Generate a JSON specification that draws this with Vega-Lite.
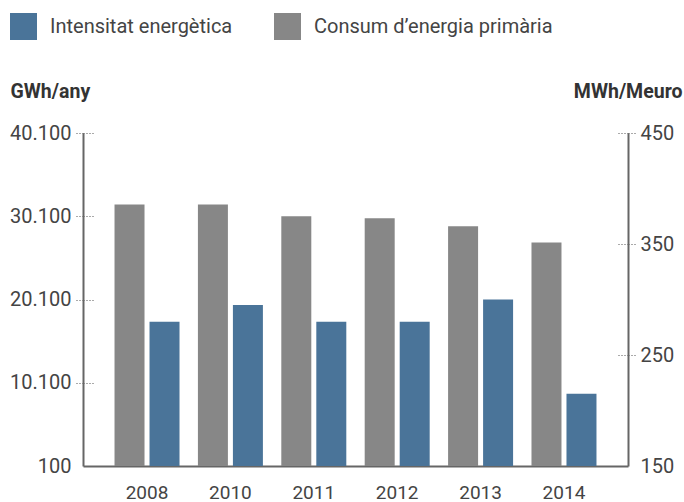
{
  "$schema": "https://vega.github.io/schema/vega-lite/v6.json",
  "width": 545,
  "height": 333,
  "autosize": {"type": "none"},
  "padding": {"left": 83, "top": 133, "right": 56, "bottom": 36},
  "background": "white",
  "config": {
    "view": {"stroke": null},
    "font": "Roboto",
    "axis": {"labelFont": "Roboto", "titleFont": "Roboto"},
    "legend": {"labelFont": "Roboto"}
  },
  "data": {
    "values": [
      {"any": "2008", "serie": "Consum d’energia primària", "valor": 31500},
      {"any": "2010", "serie": "Consum d’energia primària", "valor": 31500},
      {"any": "2011", "serie": "Consum d’energia primària", "valor": 30100},
      {"any": "2012", "serie": "Consum d’energia primària", "valor": 29850},
      {"any": "2013", "serie": "Consum d’energia primària", "valor": 28900},
      {"any": "2014", "serie": "Consum d’energia primària", "valor": 26950},
      {"any": "2008", "serie": "Intensitat energètica", "valor": 280},
      {"any": "2010", "serie": "Intensitat energètica", "valor": 295},
      {"any": "2011", "serie": "Intensitat energètica", "valor": 280},
      {"any": "2012", "serie": "Intensitat energètica", "valor": 280},
      {"any": "2013", "serie": "Intensitat energètica", "valor": 300},
      {"any": "2014", "serie": "Intensitat energètica", "valor": 215}
    ]
  },
  "encoding": {
    "x": {
      "field": "any", "type": "nominal", "sort": null,
      "scale": {"paddingInner": 0.2206, "paddingOuter": 0.378},
      "axis": {
        "title": null, "labelAngle": 0, "ticks": false,
        "domainColor": "#666", "domainWidth": 2,
        "labelFontSize": 19, "labelPadding": 17, "labelColor": "#444", "labelBaseline": "top"
      }
    },
    "xOffset": {
      "field": "serie", "type": "nominal",
      "scale": {"domain": ["Consum d’energia primària", "Intensitat energètica"], "paddingInner": 0.143, "paddingOuter": 0}
    },
    "color": {
      "field": "serie", "type": "nominal",
      "scale": {"domain": ["Intensitat energètica", "Consum d’energia primària"], "range": ["#4a7499", "#878787"]},
      "legend": {
        "orient": "none", "legendX": -73, "legendY": -120, "direction": "horizontal",
        "title": null, "symbolType": "square", "symbolSize": 729, "symbolStrokeWidth": 0,
        "symbolOpacity": 1,
        "labelFontSize": 20, "labelColor": "#444", "labelOffset": 13, "columnPadding": 41,
        "padding": 0, "labelLimit": 400
      }
    }
  },
  "layer": [
    {
      "transform": [{"filter": "datum.serie === 'Consum d’energia primària'"}],
      "mark": {"type": "bar", "opacity": 1},
      "encoding": {
        "y": {
          "field": "valor", "type": "quantitative",
          "scale": {"domain": [100, 40100], "nice": false, "zero": false},
          "axis": {
            "orient": "left",
            "values": [100, 10100, 20100, 30100, 40100],
            "labelExpr": "replace(format(datum.value, ','), ',', '.')",
            "title": "GWh/any", "titleAngle": 0, "titleAlign": "left", "titleAnchor": null,
            "titleX": -73, "titleY": -36, "titleBaseline": "alphabetic",
            "titleFontSize": 19.5, "titleFontWeight": "bold", "titleColor": "#333",
            "tickSize": 7, "tickDash": [1, 2],
            "tickColor": "#555",
            "tickOpacity": {"condition": {"test": "datum.value === 100", "value": 0}, "value": 1},
            "grid": true, "gridDash": [1, 2, 1, 2, 1, 2, 1, 3000], "gridColor": "#555",
            "gridOpacity": {"condition": {"test": "datum.value === 100", "value": 0}, "value": 1},
            "domainColor": "#666", "domainWidth": 2,
            "labelPadding": 5, "labelFontSize": 20, "labelColor": "#444"
          }
        },
        "y2": {"datum": 100}
      }
    },
    {
      "transform": [{"filter": "datum.serie === 'Intensitat energètica'"}],
      "mark": {"type": "bar", "opacity": 1},
      "encoding": {
        "y": {
          "field": "valor", "type": "quantitative",
          "scale": {"domain": [150, 450], "nice": false, "zero": false},
          "axis": {
            "orient": "right",
            "values": [150, 250, 350, 450],
            "title": "MWh/Meuro", "titleAngle": 0, "titleAlign": "right", "titleAnchor": null,
            "titleX": 54, "titleY": -36, "titleBaseline": "alphabetic",
            "titleFontSize": 19.5, "titleFontWeight": "bold", "titleColor": "#333",
            "tickSize": 7, "tickDash": [1, 2],
            "tickColor": "#555",
            "tickOpacity": {"condition": {"test": "datum.value === 150", "value": 0}, "value": 1},
            "grid": true, "gridDash": [1, 2, 1, 2, 1, 2, 1, 3000], "gridColor": "#555",
            "gridOpacity": {"condition": {"test": "datum.value === 150", "value": 0}, "value": 1},
            "domainColor": "#666", "domainWidth": 2,
            "labelPadding": 5, "labelFontSize": 20, "labelColor": "#444"
          }
        },
        "y2": {"datum": 150}
      }
    }
  ],
  "resolve": {"scale": {"y": "independent"}}
}
